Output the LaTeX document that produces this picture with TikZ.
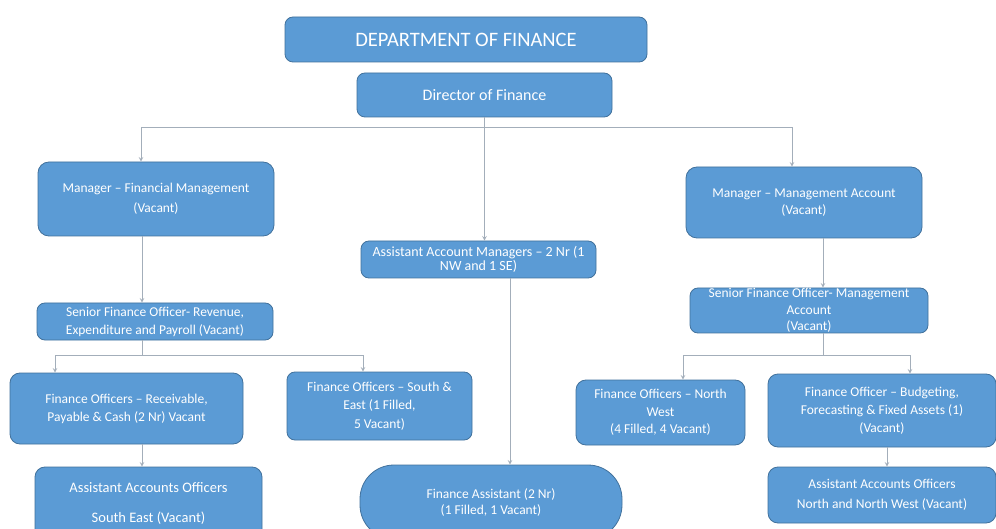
\documentclass[tikz,border=0pt]{standalone}
\usepackage{fontspec}
\setmainfont{Carlito}
\usetikzlibrary{arrows}
\definecolor{boxblue}{HTML}{5B9BD5}
\definecolor{boxedge}{HTML}{41719C}
\definecolor{linkgray}{HTML}{A3AEBA}
\tikzstyle{orgbox} = [rectangle, rounded corners=8pt, 
draw=boxedge, 
line width=0.8pt, 
fill=boxblue, 
text=white, 
align=center, 
inner sep=0pt, 
font=\fontsize{13.5}{18}\selectfont]
\tikzstyle{arrow} = [linkgray, line width=1pt, ->, >=stealth]

\begin{document}
\begin{tikzpicture}[x=1pt, y=-1pt]
        \useasboundingbox (0,0) rectangle (996,529);
        \path [fill=white] (0,0) rectangle (996,529);
        \node (dept) [orgbox, minimum width=362pt, minimum height=45pt, font=\fontsize{20.5}{24}\selectfont] at (466,39.5) {DEPARTMENT OF FINANCE};
        \node (dir) [orgbox, minimum width=255pt, minimum height=44pt, font=\fontsize{16}{19}\selectfont] at (484.5,95) {Director of Finance};
        \node (mfm) [orgbox, rounded corners=11pt, minimum width=236pt, minimum height=74pt, font=\fontsize{13.5}{20}\selectfont] at (156,199) {Manager -- Financial Management\\(Vacant)};
        \node (sfo1) [orgbox, minimum width=236pt, minimum height=37pt] at (155,321.5) {Senior Finance Officer- Revenue,\\Expenditure and Payroll (Vacant)};
        \node (fo1) [orgbox, rounded corners=10pt, minimum width=233pt, minimum height=71pt] at (126.5,408.5) {Finance Officers -- Receivable,\\Payable \& Cash (2 Nr) Vacant};
        \node (aaose) [orgbox, rounded corners=10pt, minimum width=227pt, minimum height=72pt, font=\fontsize{14.5}{30}\selectfont] at (148.5,503) {Assistant Accounts Officers\\South East (Vacant)};
        \node (fose) [orgbox, minimum width=185pt, minimum height=68pt, font=\fontsize{13.5}{18.5}\selectfont] at (379.5,406) {Finance Officers -- South \&\\East (1 Filled,\\5 Vacant)};
        \node (aam) [orgbox, minimum width=235pt, minimum height=37pt, font=\fontsize{14}{14}\selectfont] at (478.5,259.5) {Assistant Account Managers -- 2 Nr (1\\NW and 1 SE)};
        \node (fa) [orgbox, rounded corners=34pt, minimum width=262pt, minimum height=74pt, font=\fontsize{13.5}{16}\selectfont] at (491,502) {Finance Assistant (2 Nr)\\(1 Filled, 1 Vacant)};
        \node (mma) [orgbox, rounded corners=11pt, minimum width=236pt, minimum height=71pt, font=\fontsize{13.5}{17}\selectfont] at (804,202.5) {Manager -- Management Account\\(Vacant)};
        \node (sfo2) [orgbox, minimum width=238pt, minimum height=45pt, font=\fontsize{13.5}{16.5}\selectfont] at (809,310.5) {Senior Finance Officer- Management\\Account\\(Vacant)};
        \node (fonw) [orgbox, rounded corners=10pt, minimum width=169pt, minimum height=65pt, font=\fontsize{13.5}{17.5}\selectfont] at (660.5,412.5) {Finance Officers -- North\\West\\(4 Filled, 4 Vacant)};
        \node (fob) [orgbox, rounded corners=10pt, minimum width=228pt, minimum height=73pt] at (882,410.5) {Finance Officer -- Budgeting,\\Forecasting \& Fixed Assets (1)\\(Vacant)};
        \node (aaon) [orgbox, rounded corners=10pt, minimum width=228pt, minimum height=56pt, font=\fontsize{13.5}{20}\selectfont] at (882,495) {Assistant Accounts Officers\\North and North West (Vacant)};
        \draw [arrow] (dir.south) -- ++(0,10) -| ([xshift=-15pt]mfm.north);
        \draw [arrow] (dir.south) -- ++(0,10) -| ([xshift=-12pt]mma.north);
        \draw [arrow] (dir.south) -- (dir.south |- aam.north);
        \draw [arrow] ([xshift=-14pt]mfm.south) -- ([xshift=-13pt]sfo1.north);
        \draw [arrow] ([xshift=-13pt]sfo1.south) -- ++(0,15) -| ([xshift=-71.5pt]fo1.north);
        \draw [arrow] ([xshift=-13pt]sfo1.south) -- ++(0,15) -| ([xshift=-16.5pt]fose.north);
        \draw [arrow] ([xshift=15.5pt]fo1.south) -- ([xshift=-6.5pt]aaose.north);
        \draw [arrow] ([xshift=31.5pt]aam.south) -- ([xshift=19pt]fa.north);
        \draw [arrow] ([xshift=19pt]mma.south) -- ([xshift=14pt]sfo2.north);
        \draw [arrow] ([xshift=14pt]sfo2.south) -- ++(0,22) -| ([xshift=22.5pt]fonw.north);
        \draw [arrow] ([xshift=14pt]sfo2.south) -- ++(0,22) -| ([xshift=28pt]fob.north);
        \draw [arrow] ([xshift=5pt]fob.south) -- ([xshift=5pt]aaon.north);
    \end{tikzpicture}
\end{document}
